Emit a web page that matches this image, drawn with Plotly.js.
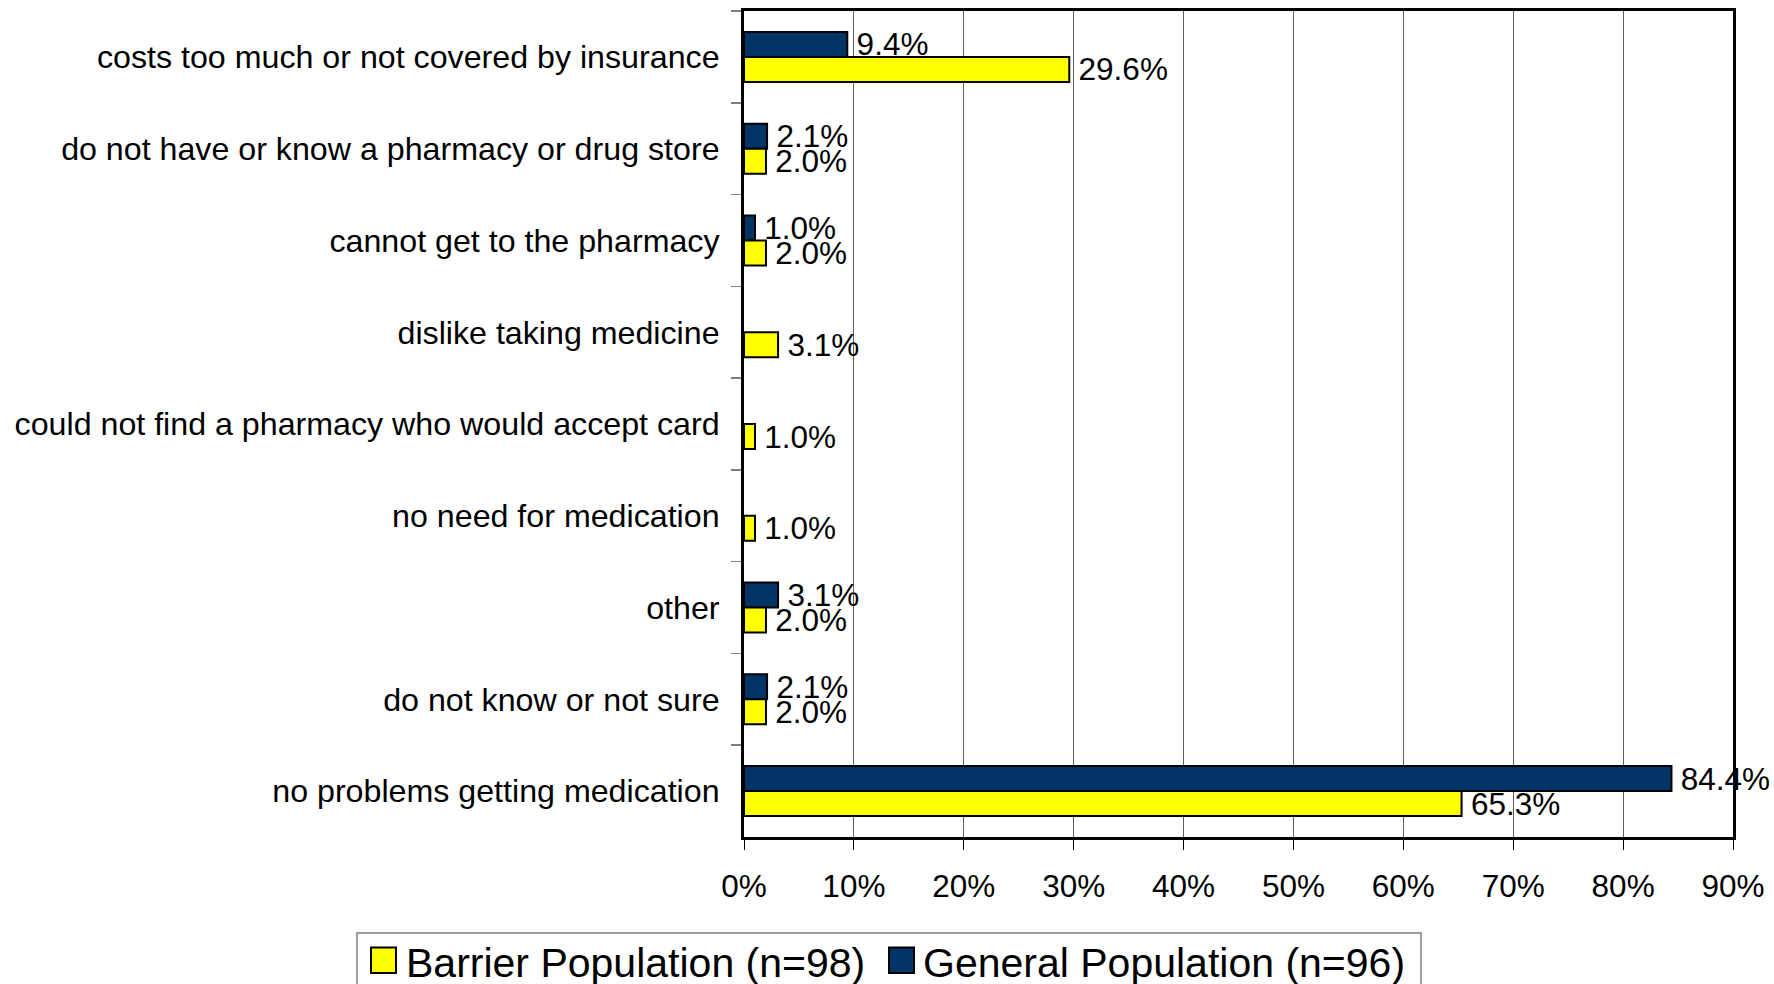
<!DOCTYPE html>
<html>
<head>
<meta charset="utf-8">
<script src="https://cdn.plot.ly/plotly-3.0.1.min.js"></script>
<style>
html,body{margin:0;padding:0;background:#ffffff;}
#chart{width:1774px;height:984px;}
</style>
</head>
<body>
<div id="chart"></div>
<script>
const categories = [
  "costs too much or not covered by insurance",
  "do not have or know a pharmacy or drug store",
  "cannot get to the pharmacy",
  "dislike taking medicine",
  "could not find a pharmacy who would accept card",
  "no need for medication",
  "other",
  "do not know or not sure",
  "no problems getting medication"
];
const barrierName = "Barrier Population (n=98)";
const generalName = "General Population (n=96)";
const barrierValues = [29.6, 2.0, 2.0, 3.1, 1.0, 1.0, 2.0, 2.0, 65.3];
const generalValues = [9.4, 2.1, 1.0, null, null, null, 3.1, 2.1, 84.4];
const xTickValues = [0, 10, 20, 30, 40, 50, 60, 70, 80, 90];
const xTickLabels = ["0%", "10%", "20%", "30%", "40%", "50%", "60%", "70%", "80%", "90%"];

const FONT = '"Liberation Sans", Arial, sans-serif';
const BARRIER_COLOR = '#FFFF00';
const GENERAL_COLOR = '#003366';
const W = 1774, H = 984;
const M = {l: 744, r: 41, t: 11, b: 147};
const PW = W - M.l - M.r, PH = H - M.t - M.b;
// pixel -> paper coordinate helpers (for the legend box drawn below the plot)
const px = x => (x - M.l) / PW;
const py = y => (H - M.b - y) / PH;

function labels(vals) {
  return vals.map(v => v == null ? '' : '\u2009' + v.toFixed(1) + '%');
}

const traces = [
  {
    type: 'bar', orientation: 'h', name: generalName,
    y: categories, x: generalValues,
    marker: {color: GENERAL_COLOR, line: {color: '#000000', width: 2}},
    text: labels(generalValues), textposition: 'outside',
    textfont: {family: FONT, size: 31.5, color: '#000000'},
    constraintext: 'none', cliponaxis: false, hoverinfo: 'skip', showlegend: false
  },
  {
    type: 'bar', orientation: 'h', name: barrierName,
    y: categories, x: barrierValues,
    marker: {color: BARRIER_COLOR, line: {color: '#000000', width: 2}},
    text: labels(barrierValues), textposition: 'outside',
    textfont: {family: FONT, size: 31.5, color: '#000000'},
    constraintext: 'none', cliponaxis: false, hoverinfo: 'skip', showlegend: false
  }
];

// Legend (drawn as a boxed row, as in the reference)
const legendItems = [
  {name: barrierName, color: BARRIER_COLOR, sx: 371, tx: 405},
  {name: generalName, color: GENERAL_COLOR, sx: 889, tx: 922}
];
const shapes = [
  {type: 'rect', xref: 'paper', yref: 'paper', layer: 'above',
   x0: px(357), x1: px(1421), y0: py(933), y1: py(1010),
   line: {color: '#808080', width: 1.5}, fillcolor: 'rgba(0,0,0,0)'}
];
const annotations = [];
legendItems.forEach(it => {
  shapes.push({type: 'rect', xref: 'paper', yref: 'paper', layer: 'above',
    x0: px(it.sx), x1: px(it.sx + 25), y0: py(947.5), y1: py(973),
    line: {color: '#000000', width: 2}, fillcolor: it.color});
  annotations.push({xref: 'paper', yref: 'paper', x: px(it.tx), y: py(963),
    xanchor: 'left', yanchor: 'middle', showarrow: false, text: it.name,
    font: {family: FONT, size: 41, color: '#000000'}, borderpad: 0});
});

const layout = {
  width: W, height: H,
  paper_bgcolor: '#ffffff', plot_bgcolor: '#ffffff',
  font: {family: FONT, color: '#000000'},
  margin: {l: M.l, r: M.r, t: M.t, b: M.b, pad: 0},
  barmode: 'group', bargap: 0.455, bargroupgap: 0,
  showlegend: false,
  shapes: shapes,
  annotations: annotations,
  xaxis: {
    range: [0, 90], tickvals: xTickValues, ticktext: xTickLabels,
    showgrid: true, gridcolor: '#606060', gridwidth: 1,
    zeroline: false,
    showline: true, mirror: true, linecolor: '#000000', linewidth: 3,
    ticks: 'outside', ticklen: 10, tickcolor: '#000000', tickwidth: 1,
    tickfont: {family: FONT, size: 31.5, color: '#000000'},
    ticklabelstandoff: 9, fixedrange: true
  },
  yaxis: {
    type: 'category', autorange: 'reversed',
    showgrid: false, zeroline: false,
    showline: true, mirror: true, linecolor: '#000000', linewidth: 3,
    ticks: 'outside', tickson: 'boundaries', ticklen: 10, tickcolor: '#808080', tickwidth: 1.5,
    tickfont: {family: FONT, size: 32.2, color: '#000000'},
    ticklabelstandoff: 15, fixedrange: true
  }
};

Plotly.newPlot('chart', traces, layout, {displayModeBar: false, staticPlot: true});
</script>
</body>
</html>
